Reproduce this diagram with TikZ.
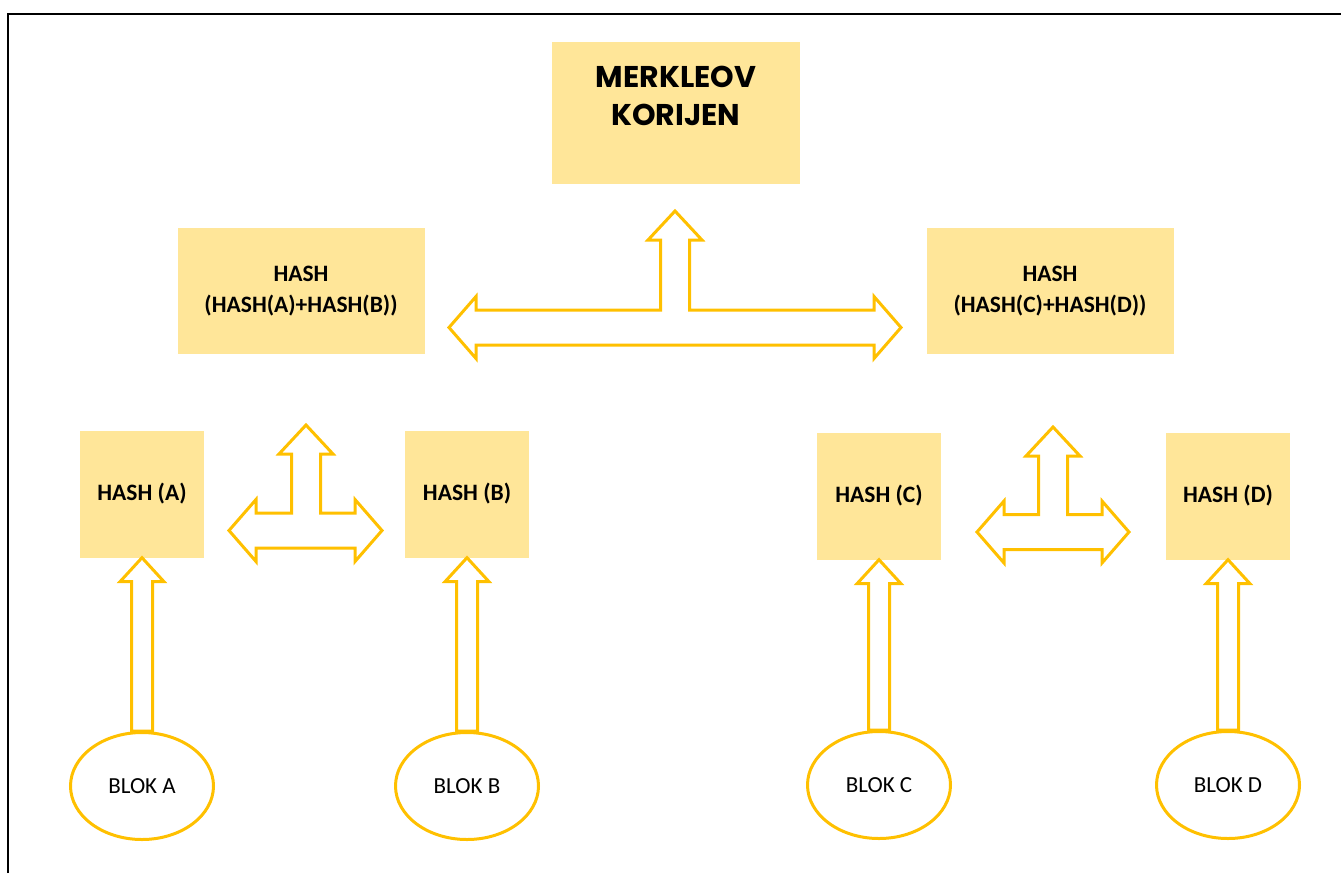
\documentclass[tikz,border=0pt]{standalone}
\usepackage{fontspec}
\setmainfont{Carlito}
\newfontfamily\titlefont{Poppins}
\usetikzlibrary{calc,shapes.geometric}
\definecolor{gold}{HTML}{FFC000}
\definecolor{lightgold}{HTML}{FFE699}
% up arrow from a block to its hash
\newcommand{\uparr}[2]{%
  \draw[blockarr] let \p1=(#1.north), \p2=(#2.south) in
    (\x2,\y2) -- (\x2+22,\y2-24) -- (\x2+10.5,\y2-24) -- (\x2+10.5,\y1)
    -- (\x2-10.5,\y1) -- (\x2-10.5,\y2-24) -- (\x2-22,\y2-24) -- cycle;
}
% three-way arrow: left tip, right tip, upper tip
\newcommand{\tarr}[3]{%
  \draw[blockarr] let \p1=(#1), \p2=(#2), \p3=(#3) in
    (\x1,\y1) -- (\x1+27,\y1+31) -- (\x1+27,\y1+17.5) -- (\x3-14.5,\y1+17.5)
    -- (\x3-14.5,\y3-29) -- (\x3-27,\y3-29) -- (\x3,\y3) -- (\x3+27,\y3-29)
    -- (\x3+14.5,\y3-29) -- (\x3+14.5,\y1+17.5) -- (\x2-27,\y1+17.5)
    -- (\x2-27,\y1+31) -- (\x2,\y1) -- (\x2-27,\y1-31) -- (\x2-27,\y1-17.5)
    -- (\x1+27,\y1-17.5) -- (\x1+27,\y1-31) -- cycle;
}
\tikzset{
  box/.style={fill=lightgold, inner sep=0pt, align=center,
    font=\bfseries\fontsize{23.5}{31}\selectfont},
  leaf/.style={box, minimum width=124, minimum height=127},
  mid/.style={box, minimum width=247, minimum height=126},
  blok/.style={ellipse, draw=gold, line width=3pt, minimum width=143,
    minimum height=107, inner sep=0pt, font=\fontsize{23}{28}\selectfont},
  blockarr/.style={draw=gold, line width=3pt, line join=miter, fill=white},
}

\begin{document}
\begin{tikzpicture}[x=1pt,y=1pt]
  \useasboundingbox (0,0) rectangle (1341,-873);
  \draw[line width=2pt] (8,-873) -- (8,-14) -- (1341,-14);

  % root
  \node[box, minimum width=248, minimum height=142] (root) at (676,-113) {};
  \node[font=\titlefont\bfseries\fontsize{30}{38}\selectfont, align=center]
    (roott) at (676,-96) {MERKLEOV\\KORIJEN};

  % second level
  \node[mid] (hab) at (301,-291) {HASH\\(HASH(A)+HASH(B))};
  \node[mid] (hcd) at (1050,-291) {HASH\\(HASH(C)+HASH(D))};

  % leaves
  \node[leaf] (ha) at (142,-494) {HASH (A)};
  \node[leaf] (hb) at (467,-494) {HASH (B)};
  \node[leaf] (hc) at (879,-496) {HASH (C)};
  \node[leaf] (hd) at (1228,-496) {HASH (D)};

  % blocks
  \node[blok] (ba) at (142,-786) {BLOK A};
  \node[blok] (bb) at (467,-786) {BLOK B};
  \node[blok] (bc) at (879,-785) {BLOK C};
  \node[blok] (bd) at (1228,-785) {BLOK D};

  \uparr{ba}{ha}
  \uparr{bb}{hb}
  \uparr{bc}{hc}
  \uparr{bd}{hd}

  \coordinate (tl) at (449,-327.5);
  \coordinate (tr) at (901,-327.5);
  \coordinate (tu) at (675,-211);
  \coordinate (abl) at (229,-530.5);
  \coordinate (abr) at (382,-530.5);
  \coordinate (abu) at (306,-425);
  \coordinate (cdl) at (977,-532);
  \coordinate (cdr) at (1129,-532);
  \coordinate (cdu) at (1053,-427);

  \tarr{tl}{tr}{tu}
  \tarr{abl}{abr}{abu}
  \tarr{cdl}{cdr}{cdu}
\end{tikzpicture}
\end{document}
